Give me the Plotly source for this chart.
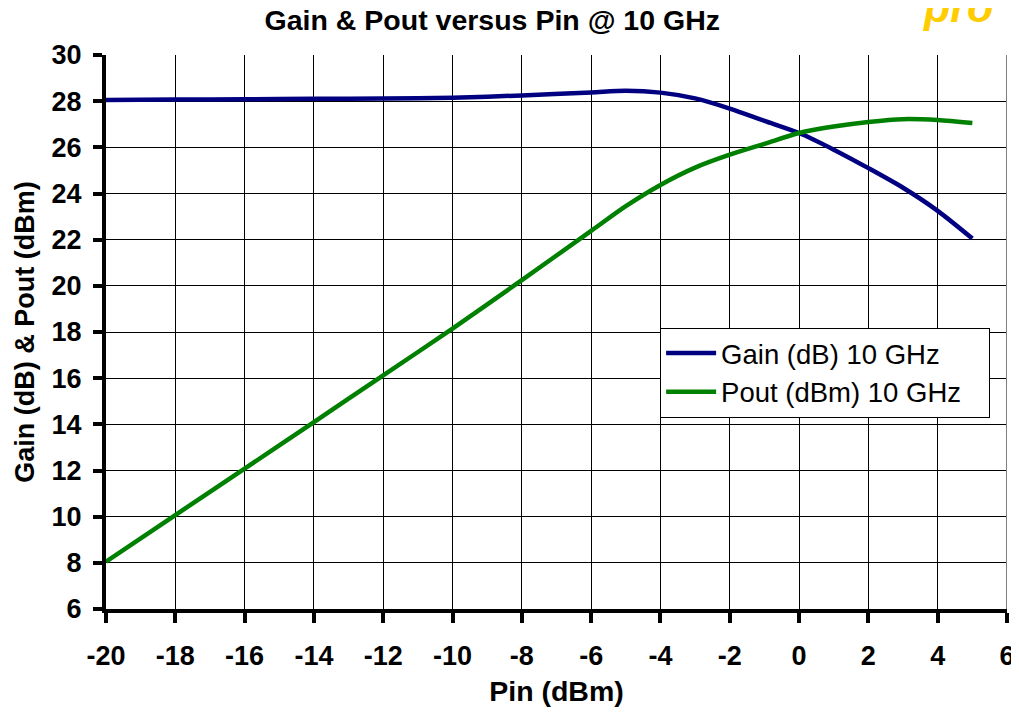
import plotly.graph_objects as go

pin = [-20, -18, -16, -14, -12, -10, -8, -6, -5, -4, -3, -2, -1, 0, 1, 2, 3, 4, 5]
gain = [28.05, 28.07, 28.08, 28.1, 28.12, 28.15, 28.25, 28.38, 28.45, 28.37, 28.12, 27.68, 27.15, 26.62, 25.9, 25.1, 24.25, 23.25, 22.05]
pout = [8.05, 10.07, 12.08, 14.1, 16.12, 18.15, 20.25, 22.38, 23.45, 24.37, 25.12, 25.68, 26.15, 26.62, 26.9, 27.1, 27.22, 27.18, 27.05]
series_names = ["Gain (dB) 10 GHz", "Pout (dBm) 10 GHz"]

x_ticks = list(range(-20, 7, 2))
y_ticks = list(range(6, 31, 2))

FONT = "Liberation Sans, Arial, sans-serif"
PAD = "\u00a0\u00a0\u00a0"

fig = go.Figure()
fig.add_trace(go.Scatter(x=pin, y=gain, mode="lines", name=series_names[0] + PAD,
                         line=dict(color="#000080", width=4.5, shape="spline", smoothing=0.8)))
fig.add_trace(go.Scatter(x=pin, y=pout, mode="lines", name=series_names[1] + PAD,
                         line=dict(color="#008000", width=4.5, shape="spline", smoothing=0.8)))

fig.update_layout(
    width=1011, height=705,
    margin=dict(l=98, r=12, t=47, b=104, autoexpand=False),
    paper_bgcolor="white", plot_bgcolor="white",
    font=dict(family=FONT, color="black"),
    title=dict(text="<b>Gain & Pout versus Pin @ 10 GHz</b>", x=0.479, xanchor="center",
               y=0.983, yanchor="middle", font=dict(size=28.5, family=FONT)),
    legend=dict(x=0.615, y=0.508, xanchor="left", yanchor="top",
                bgcolor="white", bordercolor="black", borderwidth=1,
                font=dict(size=27.5, family=FONT), tracegroupgap=0, itemwidth=50),
    showlegend=True,
)
fig.update_xaxes(
    range=[-20, 6], tickvals=x_ticks, ticktext=[str(v) for v in x_ticks],
    showgrid=True, gridcolor="black", gridwidth=1,
    showline=True, linecolor="black", linewidth=4,
    ticks="outside", ticklen=10, tickwidth=4, tickcolor="black",
    tickfont=dict(size=27, family=FONT, weight="bold"),
    ticklabelstandoff=10,
    zeroline=False, automargin=False,
    title=dict(text="<b>Pin (dBm)</b>", font=dict(size=28.5, family=FONT), standoff=12),
)
fig.update_yaxes(
    range=[6, 30], tickvals=y_ticks, ticktext=[str(v) for v in y_ticks],
    showgrid=True, gridcolor="black", gridwidth=1,
    showline=True, linecolor="black", linewidth=4,
    ticks="outside", ticklen=9, tickwidth=4, tickcolor="black",
    tickfont=dict(size=27, family=FONT, weight="bold"),
    ticklabelstandoff=6,
    zeroline=False, automargin=False,
    title=dict(text="<b>Gain (dB) & Pout (dBm)</b>", font=dict(size=27, family=FONT), standoff=10),
)
fig.add_shape(type="line", xref="x", yref="paper", x0=6, x1=6, y0=0, y1=1,
              line=dict(color="#808080", width=2))
fig.add_annotation(text="<b><i>pro</i></b>", xref="paper", yref="paper", x=0.904, y=1.04,
                   xanchor="left", yanchor="bottom", showarrow=False,
                   font=dict(size=43, color="#FFCC00", family=FONT))

fig.write_html("out.html")
